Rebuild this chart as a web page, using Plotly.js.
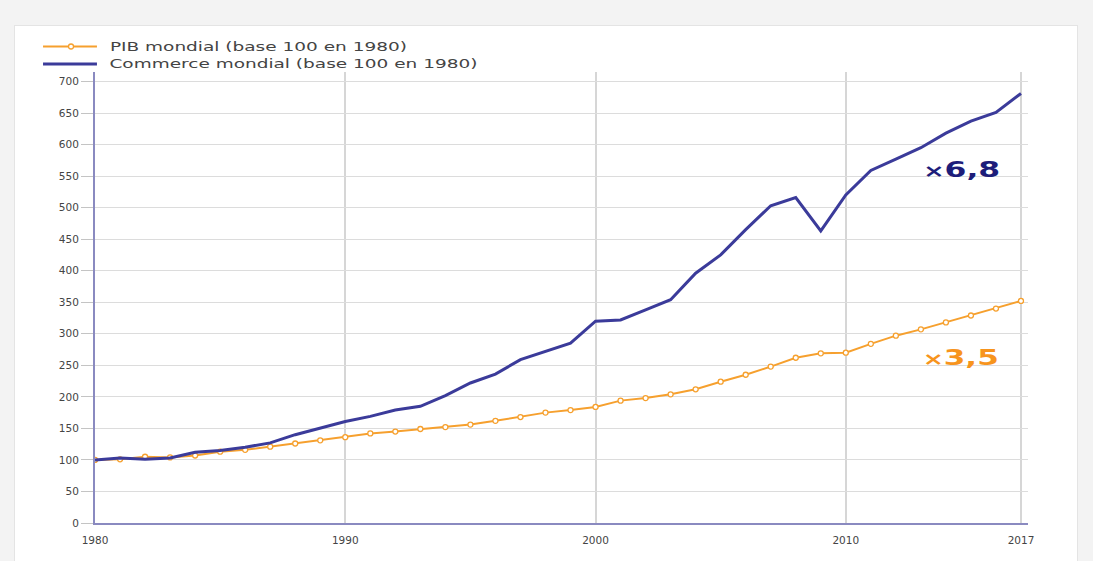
<!DOCTYPE html>
<html>
<head>
<meta charset="utf-8">
<script src="https://cdn.plot.ly/plotly-3.0.1.min.js"></script>
<style>
  html, body { margin: 0; padding: 0; background: #f3f3f3; width: 1093px; height: 561px; overflow: hidden; }
  #card { position: absolute; left: 14px; top: 25px; width: 1062px; height: 540px; background: #ffffff; border: 1px solid #e4e4e4; }
  #chart { position: absolute; left: 0; top: 0; width: 1093px; height: 561px; }
</style>
</head>
<body>
<div id="card"></div>
<div id="chart"></div>
<script>
const years = [];
for (let y = 1980; y <= 2017; y++) years.push(y);

const pibMondial = [100, 101, 105, 104, 107, 113, 116, 121, 126, 131,
                    136, 142, 145, 149, 152, 156, 162, 168, 175, 179,
                    184, 194, 198, 204, 212, 224, 235, 248, 262, 269,
                    270, 284, 297, 307, 318, 329, 340, 352];

const commerceMondial = [100, 103, 101, 103, 112, 115, 120, 127, 140, 151,
                         161, 169, 179, 185, 202, 222, 236, 259, 272, 285,
                         320, 322, 338, 354, 396, 425, 465, 503, 516, 463,
                         520, 559, 577, 595, 618, 637, 651, 681];

const xTickVals = [1980, 1990, 2000, 2010, 2017];
const yTickVals = [0, 50, 100, 150, 200, 250, 300, 350, 400, 450, 500, 550, 600, 650, 700];

const seriesNames = ["PIB mondial (base 100 en 1980)", "Commerce mondial (base 100 en 1980)"];
const annotTexts = ["×6,8", "×3,5"];

const orange = "#f6a02e";
const blue = "#3b3b9a";
const FONT = "DejaVu Sans, Verdana, sans-serif";

const traces = [
  {
    x: years, y: pibMondial, name: seriesNames[0], type: "scatter", mode: "lines+markers",
    line: { color: orange, width: 2 },
    marker: { symbol: "circle", size: 5, color: "#ffffff", line: { color: orange, width: 1.3 } }
  },
  {
    x: years, y: commerceMondial, name: seriesNames[1], type: "scatter", mode: "lines",
    line: { color: blue, width: 3 }
  }
];

function splitMult(t) { return '<span style="font-size:17px">' + t.charAt(0) + '</span>' + t.slice(1); }

const layout = {
  width: 1093, height: 561,
  margin: { l: 95, r: 65, t: 72, b: 38 },
  paper_bgcolor: "rgba(0,0,0,0)",
  plot_bgcolor: "rgba(0,0,0,0)",
  font: { family: FONT, size: 11, color: "#444" },
  showlegend: false,
  xaxis: {
    range: [1980, 2017.28], tickmode: "array", tickvals: xTickVals, ticktext: xTickVals.map(String),
    showgrid: true, gridcolor: "#d6d6d6", gridwidth: 2,
    showline: true, linecolor: "#8a8ac0", linewidth: 2,
    ticks: "", ticklabelstandoff: 6, tickfont: { size: 10.5, color: "#444" }, zeroline: false, fixedrange: true
  },
  yaxis: {
    range: [0, 715], tickmode: "array", tickvals: yTickVals,
    showgrid: true, gridcolor: "#dcdcdc", gridwidth: 1,
    showline: true, linecolor: "#8a8ac0", linewidth: 2,
    ticks: "outside", ticklen: 12, tickcolor: "#c4c4c4", tickfont: { size: 10.5, color: "#444" },
    zeroline: false, fixedrange: true
  },
  shapes: [
    { type: "line", xref: "paper", yref: "paper", x0: -0.0557, x1: 0.0021, y0: 1.0565, y1: 1.0565,
      line: { color: orange, width: 2 } },
    { type: "circle", xref: "paper", yref: "paper", xsizemode: "pixel", ysizemode: "pixel",
      xanchor: -0.0257, yanchor: 1.0565, x0: -2.5, x1: 2.5, y0: -2.5, y1: 2.5,
      fillcolor: "#ffffff", line: { color: orange, width: 1.3 } },
    { type: "line", xref: "paper", yref: "paper", x0: -0.0557, x1: 0.0021, y0: 1.018, y1: 1.018,
      line: { color: blue, width: 3 } }
  ],
  annotations: [
    { x: 0.17524, y: 1.0565, xref: "paper", yref: "paper", showarrow: false, xanchor: "center", yanchor: "middle",
      text: seriesNames[0], font: { family: FONT, size: 12.5, color: "#444" } },
    { x: 0.21329, y: 1.018, xref: "paper", yref: "paper", showarrow: false, xanchor: "center", yanchor: "middle",
      text: seriesNames[1], font: { family: FONT, size: 12.5, color: "#444" } },
    { x: 2014.62, y: 560, xref: "x", yref: "y", showarrow: false,
      text: splitMult(annotTexts[0]),
      font: { family: FONT, size: 21, color: "#1d1d7a", weight: "bold" } },
    { x: 2014.60, y: 261, xref: "x", yref: "y", showarrow: false,
      text: splitMult(annotTexts[1]),
      font: { family: FONT, size: 21, color: "#f7941d", weight: "bold" } }
  ]
};

const stretch = {};
stretch[seriesNames[0]] = 297;
stretch[seriesNames[1]] = 368;
stretch[annotTexts[0]] = 77;
stretch[annotTexts[1]] = 76;

Plotly.newPlot("chart", traces, layout, { displayModeBar: false, staticPlot: true }).then(function () {
  document.querySelectorAll("#chart text.annotation-text").forEach(function (el) {
    const w = stretch[el.textContent];
    if (w) {
      el.setAttribute("textLength", w);
      el.setAttribute("lengthAdjust", "spacingAndGlyphs");
    }
  });
});
</script>
</body>
</html>
